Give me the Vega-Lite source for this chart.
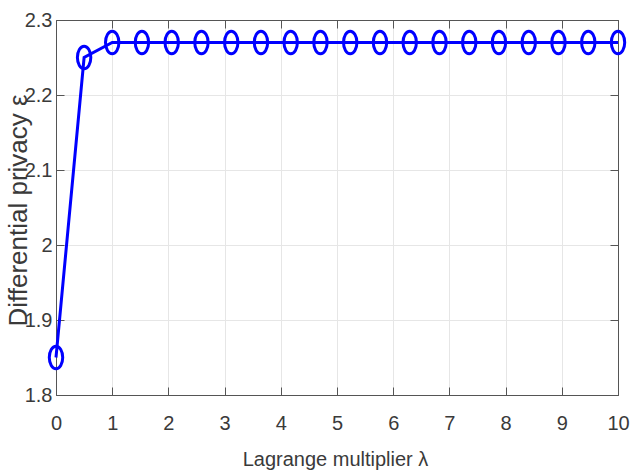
{
  "$schema": "https://vega.github.io/schema/vega-lite/v6.json",
  "width": 562,
  "height": 375,
  "autosize": "none",
  "padding": {"left": 56, "top": 20, "right": 13, "bottom": 76},
  "background": "white",
  "config": {
    "view": {"stroke": "#555", "strokeWidth": 1},
    "axis": {
      "labelFont": "Liberation Sans",
      "titleFont": "Liberation Sans",
      "labelFontSize": 20,
      "titleFontSize": 20,
      "labelColor": "#3a3a3a",
      "titleColor": "#3a3a3a",
      "titleFontWeight": "normal",
      "domainColor": "#555",
      "tickColor": "#555",
      "gridColor": "#e6e6e6",
      "tickSize": -8,
      "labelFlush": false
    }
  },
  "data": {
    "values": [
      {"lambda": 0, "eps": 1.85},
      {"lambda": 0.5, "eps": 2.25},
      {"lambda": 1, "eps": 2.27},
      {"lambda": 1.529, "eps": 2.27},
      {"lambda": 2.059, "eps": 2.27},
      {"lambda": 2.588, "eps": 2.27},
      {"lambda": 3.118, "eps": 2.27},
      {"lambda": 3.647, "eps": 2.27},
      {"lambda": 4.176, "eps": 2.27},
      {"lambda": 4.706, "eps": 2.27},
      {"lambda": 5.235, "eps": 2.27},
      {"lambda": 5.765, "eps": 2.27},
      {"lambda": 6.294, "eps": 2.27},
      {"lambda": 6.824, "eps": 2.27},
      {"lambda": 7.353, "eps": 2.27},
      {"lambda": 7.882, "eps": 2.27},
      {"lambda": 8.412, "eps": 2.27},
      {"lambda": 8.941, "eps": 2.27},
      {"lambda": 9.471, "eps": 2.27},
      {"lambda": 10, "eps": 2.27}
    ]
  },
  "resolve": {"axis": {"x": "independent", "y": "independent"}},
  "layer": [
    {
      "mark": {"type": "line", "color": "#0000ff", "strokeWidth": 3},
      "encoding": {
        "x": {
          "field": "lambda", "type": "quantitative",
          "scale": {"domain": [0, 10], "nice": false, "zero": false},
          "axis": {"values": [0,1,2,3,4,5,6,7,8,9,10], "title": "Lagrange multiplier λ", "labelPadding": 26, "titleBaseline": "alphabetic", "titleY": 70, "titleX": 279}
        },
        "y": {
          "field": "eps", "type": "quantitative",
          "scale": {"domain": [1.8, 2.3], "nice": false, "zero": false},
          "axis": {"values": [1.8, 1.9, 2.0, 2.1, 2.2, 2.3], "title": "Differential privacy ε", "labelPadding": 12, "titleFontSize": 26, "titleBaseline": "alphabetic", "titleAngle": -90, "titleX": -30, "titleY": 190, "labelExpr": "datum.value == 2 ? '2' : format(datum.value, '.1f')"}
        }
      }
    },
    {
      "mark": {"type": "point", "shape": "M -0.6,0 A 0.6,1 0 1,1 0.6,0 A 0.6,1 0 1,1 -0.6,0 Z", "size": 500, "color": "#0000ff", "strokeWidth": 3, "filled": false, "opacity": 1},
      "encoding": {
        "x": {
          "field": "lambda", "type": "quantitative",
          "scale": {"domain": [0, 10], "nice": false, "zero": false},
          "axis": {"orient": "top", "values": [0,1,2,3,4,5,6,7,8,9,10], "labels": false, "title": null, "grid": false}
        },
        "y": {
          "field": "eps", "type": "quantitative",
          "scale": {"domain": [1.8, 2.3], "nice": false, "zero": false},
          "axis": {"orient": "right", "values": [1.8, 1.9, 2.0, 2.1, 2.2, 2.3], "labels": false, "title": null, "grid": false}
        }
      }
    }
  ]
}
